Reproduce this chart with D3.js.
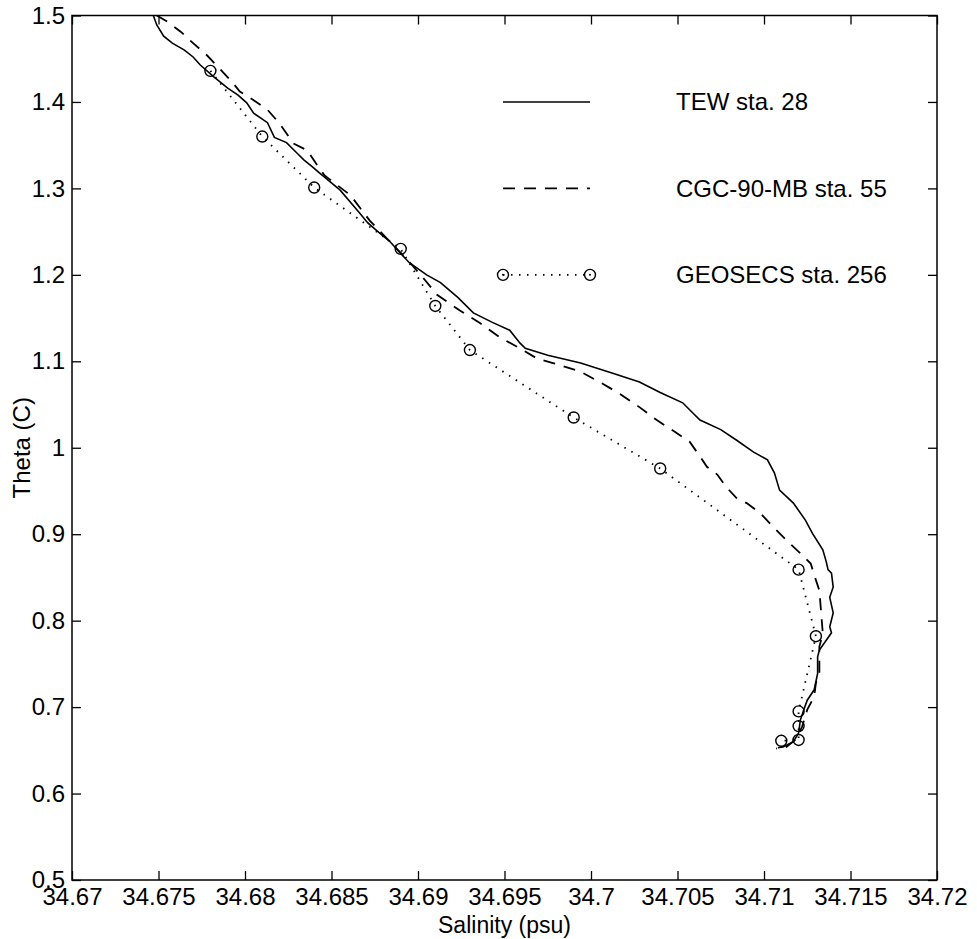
<!DOCTYPE html>
<html lang="en">
<head>
  <meta charset="UTF-8">
  <title>Theta - Salinity</title>
  <script src="https://cdn.jsdelivr.net/npm/d3@7/dist/d3.min.js"></script>
  <style>
    * { margin: 0; padding: 0; }
    html, body { background: #fff; }
    svg text { font-family: "Liberation Sans", Arial, Helvetica, sans-serif; fill: #000; }
  </style>
</head>
<body>
<div id="chart"></div>
<script>
// TEW sta. 28 (solid)
const tewSal = [34.6747, 34.6749, 34.6753, 34.6758, 34.6765, 34.6770, 34.6774, 34.6782, 34.6790, 34.6796,
  34.6801, 34.6805, 34.6813, 34.6817, 34.6824, 34.6830, 34.6834, 34.6839, 34.6843, 34.6855,
  34.6866, 34.6871, 34.6878, 34.6884, 34.6888, 34.6895, 34.6905, 34.6913, 34.6923, 34.6932,
  34.6943, 34.6953, 34.6959, 34.6962, 34.6975, 34.6994, 34.7013, 34.7028, 34.7040, 34.7053,
  34.7057, 34.7063, 34.7075, 34.7084, 34.7094, 34.7102, 34.7106, 34.7109, 34.7117, 34.7124,
  34.7128, 34.7134, 34.7136, 34.7137, 34.7139, 34.7140, 34.7138, 34.7140, 34.7138, 34.7139,
  34.7132, 34.7131, 34.7131, 34.7129, 34.7125, 34.7123, 34.7121, 34.7120, 34.7117, 34.7111, 34.7108];
const tewTheta = [1.500, 1.489, 1.476, 1.468, 1.460, 1.452, 1.443, 1.429, 1.416, 1.408,
  1.399, 1.387, 1.376, 1.359, 1.353, 1.341, 1.333, 1.325, 1.318, 1.298,
  1.272, 1.260, 1.248, 1.238, 1.229, 1.214, 1.200, 1.191, 1.174, 1.156,
  1.145, 1.136, 1.121, 1.115, 1.107, 1.098, 1.086, 1.076, 1.064, 1.052,
  1.044, 1.032, 1.021, 1.009, 0.995, 0.986, 0.971, 0.951, 0.936, 0.916,
  0.901, 0.882, 0.868, 0.859, 0.855, 0.839, 0.827, 0.809, 0.793, 0.786,
  0.766, 0.758, 0.739, 0.720, 0.708, 0.697, 0.685, 0.670, 0.660, 0.654, 0.653];

// CGC-90-MB sta. 55 (dashed)
const cgcSal = [34.6749, 34.6755, 34.6763, 34.6770, 34.6778, 34.6786, 34.6793, 34.6797, 34.6805, 34.6813,
  34.6820, 34.6828, 34.6836, 34.6841, 34.6846, 34.6861, 34.6872, 34.6884, 34.6895, 34.6904,
  34.6911, 34.6924, 34.6936, 34.6947, 34.6959, 34.6969, 34.6978, 34.6994, 34.7005, 34.7017,
  34.7028, 34.7038, 34.7048, 34.7057, 34.7063, 34.7067, 34.7073, 34.7078, 34.7084, 34.7090,
  34.7098, 34.7105, 34.7114, 34.7121, 34.7127, 34.7130, 34.7132, 34.7134, 34.7132, 34.7132,
  34.7130, 34.7129, 34.7125, 34.7122, 34.7118, 34.7113, 34.7107];
const cgcTheta = [1.500, 1.493, 1.481, 1.468, 1.454, 1.437, 1.422, 1.412, 1.402, 1.391,
  1.375, 1.352, 1.344, 1.329, 1.315, 1.292, 1.263, 1.238, 1.215, 1.194,
  1.177, 1.159, 1.144, 1.128, 1.115, 1.103, 1.098, 1.088, 1.076, 1.062,
  1.047, 1.032, 1.019, 1.007, 0.990, 0.978, 0.969, 0.955, 0.942, 0.936,
  0.924, 0.909, 0.891, 0.878, 0.866, 0.847, 0.835, 0.785, 0.770, 0.739,
  0.728, 0.712, 0.697, 0.677, 0.662, 0.654, 0.652];

// GEOSECS sta. 256 (bottles, dotted with circles)
const geoSal = [34.678, 34.681, 34.684, 34.689, 34.691, 34.693, 34.699, 34.704, 34.712, 34.713, 34.712, 34.712, 34.712, 34.711];
const geoTheta = [1.436, 1.360, 1.301, 1.230, 1.164, 1.113, 1.035, 0.976, 0.859, 0.782, 0.695, 0.678, 0.662, 0.661];

const xTicks = [34.67, 34.675, 34.68, 34.685, 34.69, 34.695, 34.7, 34.705, 34.71, 34.715, 34.72];
const yTicks = [0.5, 0.6, 0.7, 0.8, 0.9, 1.0, 1.1, 1.2, 1.3, 1.4, 1.5];
const legendLabels = ['TEW sta. 28', 'CGC-90-MB sta. 55', 'GEOSECS sta. 256'];

const W = 977, H = 939;
const m = {left: 72, right: 40, top: 15.5, bottom: 59};
const pw = W - m.left - m.right, ph = H - m.top - m.bottom;

const svg = d3.select('#chart').append('svg')
  .attr('width', W).attr('height', H)
  .attr('viewBox', [0, 0, W, H]);

const x = d3.scaleLinear().domain([34.67, 34.72]).range([m.left, m.left + pw]);
const y = d3.scaleLinear().domain([0.5, 1.5]).range([m.top + ph, m.top]);

svg.append('clipPath').attr('id', 'clip')
  .append('rect').attr('x', m.left).attr('y', m.top).attr('width', pw).attr('height', ph);

// axes, ticks pointing inward on all four sides
const fmt = d => String(+d.toFixed(3));
const tickLen = 9;
svg.append('g').attr('transform', `translate(0,${m.top + ph})`)
  .call(d3.axisBottom(x).tickValues(xTicks).tickSizeInner(-tickLen).tickSizeOuter(0).tickPadding(8).tickFormat(fmt));
svg.append('g').attr('transform', `translate(0,${m.top})`)
  .call(d3.axisTop(x).tickValues(xTicks).tickSizeInner(-tickLen).tickSizeOuter(0).tickFormat(''));
svg.append('g').attr('transform', `translate(${m.left},0)`)
  .call(d3.axisLeft(y).tickValues(yTicks).tickSizeInner(-tickLen).tickSizeOuter(0).tickPadding(7).tickFormat(fmt));
svg.append('g').attr('transform', `translate(${m.left + pw},0)`)
  .call(d3.axisRight(y).tickValues(yTicks).tickSizeInner(-tickLen).tickSizeOuter(0).tickFormat(''));

svg.selectAll('.domain').remove();
svg.selectAll('.tick line').attr('stroke', '#000').attr('stroke-width', 1.3);
svg.selectAll('.tick text').attr('font-size', 24).style('font-family', '"Liberation Sans", Arial, sans-serif');

svg.append('rect')
  .attr('x', m.left).attr('y', m.top).attr('width', pw).attr('height', ph)
  .attr('fill', 'none').attr('stroke', '#000').attr('stroke-width', 1.5);

// axis titles
svg.append('text')
  .attr('x', m.left + pw / 2).attr('y', 933)
  .attr('text-anchor', 'middle').attr('font-size', 23)
  .text('Salinity (psu)');
svg.append('text')
  .attr('transform', `translate(30,${m.top + ph / 2}) rotate(-90)`)
  .attr('text-anchor', 'middle').attr('font-size', 24)
  .text('Theta (C)');

// lines
const line = d3.line().x(d => x(d[0])).y(d => y(d[1]));
const plot = svg.append('g').attr('clip-path', 'url(#clip)');

plot.append('path')
  .datum(d3.zip(tewSal, tewTheta))
  .attr('d', line).attr('fill', 'none').attr('stroke', '#000').attr('stroke-width', 1.6);

plot.append('path')
  .datum(d3.zip(cgcSal, cgcTheta))
  .attr('d', line).attr('fill', 'none').attr('stroke', '#000').attr('stroke-width', 1.8)
  .attr('stroke-dasharray', '12,9');

const geo = d3.zip(geoSal, geoTheta);
plot.append('path')
  .datum(geo)
  .attr('d', line).attr('fill', 'none').attr('stroke', '#000').attr('stroke-width', 1.8)
  .attr('stroke-dasharray', '1.5,6.5');
plot.selectAll('circle.geo').data(geo).join('circle')
  .attr('class', 'geo')
  .attr('cx', d => x(d[0])).attr('cy', d => y(d[1])).attr('r', 5.5)
  .attr('fill', 'none').attr('stroke', '#000').attr('stroke-width', 1.4);

// legend
const legY = [1.4, 1.3, 1.2].map(v => y(v));
const lx0 = 503, lx1 = 590, tx = 676;
const leg = svg.append('g');
leg.append('line').attr('x1', lx0).attr('x2', lx1).attr('y1', legY[0]).attr('y2', legY[0])
  .attr('stroke', '#000').attr('stroke-width', 1.6);
leg.append('line').attr('x1', lx0).attr('x2', lx1).attr('y1', legY[1]).attr('y2', legY[1])
  .attr('stroke', '#000').attr('stroke-width', 1.8).attr('stroke-dasharray', '12,9');
leg.append('line').attr('x1', lx0).attr('x2', lx1).attr('y1', legY[2]).attr('y2', legY[2])
  .attr('stroke', '#000').attr('stroke-width', 1.8).attr('stroke-dasharray', '1.5,6.5');
leg.selectAll('circle').data([lx0, lx1]).join('circle')
  .attr('cx', d => d).attr('cy', legY[2]).attr('r', 5.5)
  .attr('fill', 'none').attr('stroke', '#000').attr('stroke-width', 1.4);
leg.selectAll('circle.dot').data([lx0, lx1]).join('circle')
  .attr('class', 'dot')
  .attr('cx', d => d).attr('cy', legY[2]).attr('r', 1).attr('fill', '#000');
leg.selectAll('text').data(legendLabels).join('text')
  .attr('x', tx).attr('y', (d, i) => legY[i]).attr('dy', '0.35em')
  .attr('font-size', 24)
  .text(d => d);
</script>
</body>
</html>
